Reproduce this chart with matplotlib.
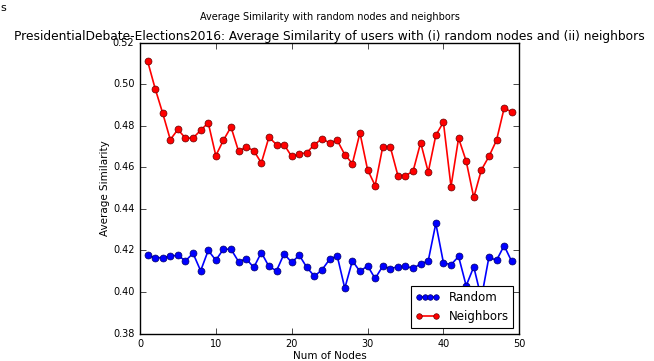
import numpy as np
import matplotlib
matplotlib.use("Agg")
import matplotlib.pyplot as plt
from matplotlib.legend_handler import HandlerLine2D

plt.style.use('classic')

nodes = list(range(1, 50))

random_sim = [0.4176, 0.4165, 0.4165, 0.4173, 0.4176, 0.4150, 0.4186, 0.4102, 0.4200, 0.4153,
              0.4206, 0.4206, 0.4146, 0.4160, 0.4118, 0.4190, 0.4123, 0.4102, 0.4184, 0.4142,
              0.4177, 0.4118, 0.4076, 0.4107, 0.4157, 0.4174, 0.4018, 0.4150, 0.4099, 0.4126,
              0.4065, 0.4124, 0.4113, 0.4121, 0.4123, 0.4115, 0.4134, 0.4150, 0.4330, 0.4141,
              0.4131, 0.4171, 0.4030, 0.4121, 0.3970, 0.4168, 0.4152, 0.4223, 0.4147]

neighbor_sim = [0.5112, 0.4979, 0.4860, 0.4733, 0.4782, 0.4740, 0.4741, 0.4778, 0.4814, 0.4656,
                0.4730, 0.4794, 0.4677, 0.4698, 0.4680, 0.4621, 0.4745, 0.4709, 0.4709, 0.4652,
                0.4663, 0.4671, 0.4709, 0.4738, 0.4717, 0.4730, 0.4661, 0.4618, 0.4765, 0.4589,
                0.4512, 0.4698, 0.4698, 0.4560, 0.4560, 0.4581, 0.4719, 0.4577, 0.4754, 0.4817,
                0.4507, 0.4740, 0.4630, 0.4455, 0.4587, 0.4652, 0.4730, 0.4884, 0.4867]

fig = plt.figure(figsize=(6.54, 3.61), dpi=100, facecolor='white')
ax = fig.add_axes([0.214, 0.076, 0.58, 0.806])
ax.set_facecolor('white')

l1, = ax.plot(nodes, random_sim, 'b-o', lw=1.2, ms=5, mec='#000066', mew=0.5, label='Random')
l2, = ax.plot(nodes, neighbor_sim, 'r-o', lw=1.2, ms=5, mec='#660000', mew=0.5, label='Neighbors')

ax.set_xlim(0, 50)
ax.set_ylim(0.38, 0.52)
ax.set_xticks([0, 10, 20, 30, 40, 50])
ax.set_yticks(np.arange(0.38, 0.5201, 0.02))
ax.tick_params(labelsize=7)
ax.set_xlabel('Num of Nodes', fontsize=7.5, labelpad=1)
ax.set_ylabel('Average Similarity', fontsize=7.5, labelpad=2)

ax.set_title('PresidentialDebate-Elections2016: Average Similarity of users with (i) random nodes and (ii) neighbors',
             fontsize=8.8, y=1.0, pad=2)
fig.text(0.504, 0.953, 'Average Similarity with random nodes and neighbors', fontsize=7, ha='center', va='center')
fig.text(0.0, 0.978, 's', fontsize=8, ha='left', va='center')

leg = ax.legend(loc='lower right', fontsize=8.5, handlelength=2.0, markerscale=0.8,
                handler_map={l1: HandlerLine2D(numpoints=4), l2: HandlerLine2D(numpoints=2)})
leg.get_frame().set_linewidth(0.8)

fig.savefig('out.png', dpi=100, facecolor='white')
